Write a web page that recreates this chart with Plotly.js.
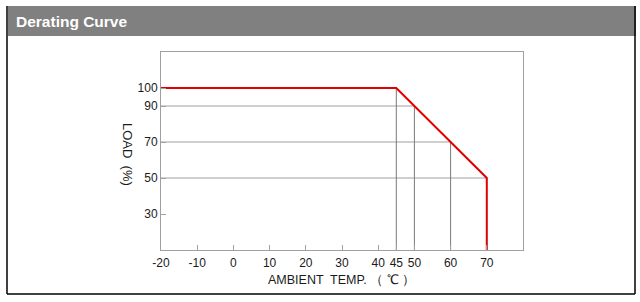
<!DOCTYPE html>
<html><head><meta charset="utf-8">
<script src="https://cdn.plot.ly/plotly-3.0.1.min.js"></script>
<style>html,body{margin:0;padding:0;background:#fff;}#chart{width:640px;height:302px;}</style>
</head><body><div id="chart"></div>
<script>
// Derating curve data
const curveTemp = [-20, 45, 70, 70];
const curveLoad = [100, 100, 50, 10];
// Reference (guide) points on the curve
const guideTemp = [50, 60, 70];
const guideLoad = [90, 70, 50];
const guideVTemp = [45, 50, 60];
const guideVLoad = [100, 90, 70];
const xTickVals = [-20, -10, 0, 10, 20, 30, 40, 45, 50, 60, 70];
const xTickText = ['-20', '-10', '0', '10', '20', '30', '40', '45', '50', '60', '70'];
const yTickVals = [100, 90, 70, 50, 30];
const yTickText = ['100', '90', '70', '50', '30'];

const X0 = -20, YMIN = 10;
const hx = [], hy = [];
guideTemp.forEach((t, i) => { hx.push(X0, t, null); hy.push(guideLoad[i], guideLoad[i], null); });
const vx = [], vy = [];
guideVTemp.forEach((t, i) => { vx.push(t, t, null); vy.push(YMIN, guideVLoad[i], null); });

const traces = [
  {x: hx, y: hy, mode: 'lines', line: {color: '#a0a0a0', width: 1}, hoverinfo: 'skip', showlegend: false},
  {x: vx, y: vy, mode: 'lines', line: {color: '#7a7a7a', width: 1}, hoverinfo: 'skip', showlegend: false},
  {x: curveTemp, y: curveLoad, mode: 'lines', line: {color: '#e00000', width: 2}, showlegend: false}
];

const L = 161, R = 523, T = 52, B = 250;
const px = v => (v - L) / (R - L);
const py = v => (B - v) / (B - T);

const layout = {
  width: 640, height: 302,
  margin: {l: L, r: 640 - R, t: T, b: 302 - B},
  paper_bgcolor: '#fff', plot_bgcolor: '#fff',
  font: {family: 'Liberation Sans, Arial, sans-serif', size: 12, color: '#1a1a1a'},
  xaxis: {range: [-20, 80], tickvals: xTickVals, ticktext: xTickText, showgrid: false, zeroline: false,
    showline: true, mirror: true, linecolor: '#a0a0a0', linewidth: 1,
    ticks: 'inside', ticklen: 5, tickcolor: '#a0a0a0', tickfont: {size: 12}, ticklabelstandoff: 2},
  yaxis: {range: [10, 120], tickvals: yTickVals, ticktext: yTickText, showgrid: false, zeroline: false,
    showline: true, mirror: true, linecolor: '#a0a0a0', linewidth: 1,
    ticks: 'inside', ticklen: 5, tickcolor: '#a0a0a0', tickfont: {size: 12}},
  shapes: [
    {type: 'rect', xref: 'paper', yref: 'paper', x0: px(8), x1: px(636), y0: py(6), y1: py(36),
      fillcolor: '#808080', line: {width: 0}, layer: 'below'},
    {type: 'line', xref: 'paper', yref: 'paper', x0: px(7), x1: px(7), y0: py(6), y1: py(294), line: {color: '#000', width: 1.5}},
    {type: 'line', xref: 'paper', yref: 'paper', x0: px(635), x1: px(635), y0: py(6), y1: py(294), line: {color: '#000', width: 1.5}},
    {type: 'line', xref: 'paper', yref: 'paper', x0: px(7), x1: px(635), y0: py(294), y1: py(294), line: {color: '#000', width: 1.5}}
  ],
  annotations: [
    {text: '<b>Derating Curve</b>', xref: 'paper', yref: 'paper', x: px(14), y: py(21), xanchor: 'left', yanchor: 'middle',
      showarrow: false, font: {size: 15.5, color: '#fff', family: 'Liberation Sans, Arial, sans-serif'}},
    {text: 'LOAD  (%)', xref: 'paper', yref: 'paper', x: px(128), y: py(154), xanchor: 'center', yanchor: 'middle',
      textangle: 90, showarrow: false, font: {size: 13, color: '#1a1a1a'}},
    {text: 'AMBIENT  TEMP. （ ℃ ）', xref: 'paper', yref: 'paper', x: px(266), y: py(280), xanchor: 'left', yanchor: 'middle',
      showarrow: false, font: {size: 12.5, color: '#1a1a1a'}}
  ]
};

Plotly.newPlot('chart', traces, layout, {staticPlot: true, displayModeBar: false});
</script></body></html>
